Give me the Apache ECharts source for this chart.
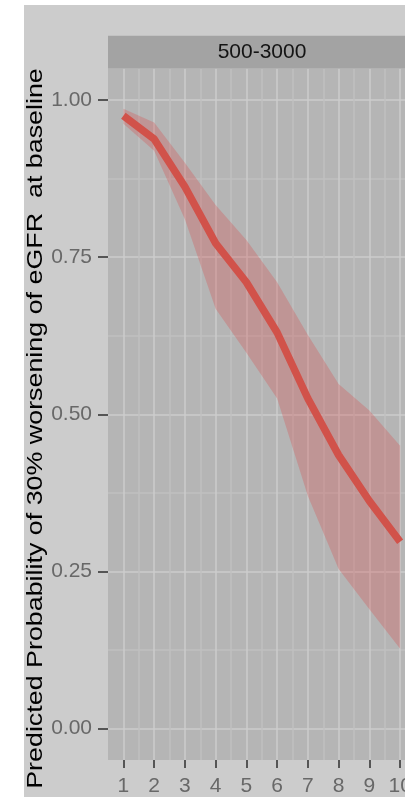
<!DOCTYPE html>
<html>
<head>
<meta charset="utf-8">
<script src="https://cdn.jsdelivr.net/npm/echarts@6/dist/echarts.min.js"></script>
<style>
  html, body { margin: 0; padding: 0; background: #ffffff; overflow: hidden; }
  #chart { position: absolute; left: 24px; top: 5px; width: 400px; height: 792px; }
</style>
</head>
<body>
<div id="chart"></div>
<script>
// Predicted probability of 30% eGFR worsening, with its confidence band
const visits = [1, 2, 3, 4, 5, 6, 7, 8, 9, 10];
const predicted = [0.975, 0.938, 0.862, 0.772, 0.710, 0.630, 0.525, 0.435, 0.362, 0.297];
const upper = [0.986, 0.964, 0.900, 0.833, 0.777, 0.710, 0.626, 0.548, 0.506, 0.450];
const lower = [0.962, 0.919, 0.810, 0.668, 0.598, 0.525, 0.370, 0.254, 0.190, 0.127];

const xTicks = [1, 2, 3, 4, 5, 6, 7, 8, 9, 10];
const xGrid = [1, 1.5, 2, 2.5, 3, 3.5, 4, 4.5, 5, 5.5, 6, 6.5, 7, 7.5, 8, 8.5, 9, 9.5, 10];
const yTicks = [0, 0.25, 0.5, 0.75, 1];
const yGrid = [0, 0.125, 0.25, 0.375, 0.5, 0.625, 0.75, 0.875, 1];

const stripLabel = '500-3000';
const yTitle = 'Predicted Probability of 30% worsening of eGFR  at baseline';

const FONT = '"Liberation Sans", Arial, sans-serif';
const PANEL = { left: 84, top: 63.5, width: 307.5, height: 692 };

const chart = echarts.init(document.getElementById('chart'), null, { renderer: 'canvas' });

// axis used only for the major/minor grid lines of the panel
const gridLineAxis = (values) => ({
  show: true,
  axisLine: { show: false, onZero: false },
  axisTick: { show: false, customValues: values },
  axisLabel: { show: false },
  splitLine: { show: true, lineStyle: { color: ['#cdcdcd', '#c1c1c1'], width: 1.5 } }
});

// confidence band as a single polygon: upper edge forward, lower edge back
const bandItem = (params, api) => {
  if (params.dataIndex !== 0) return null;
  const n = params.dataInsideLength;
  const pts = [];
  for (let i = 0; i < n; i++) pts.push(api.coord([api.value(0, i), api.value(2, i)]));
  for (let i = n - 1; i >= 0; i--) pts.push(api.coord([api.value(0, i), api.value(1, i)]));
  return {
    type: 'polygon',
    shape: { points: pts },
    style: { fill: 'rgba(215, 75, 75, 0.3)' }
  };
};

chart.setOption({
  animation: false,
  backgroundColor: '#cccccc',
  grid: {
    left: PANEL.left, top: PANEL.top, width: PANEL.width, height: PANEL.height,
    show: true, backgroundColor: '#b5b5b5', borderWidth: 0
  },
  xAxis: [
    Object.assign({ type: 'value', min: 0.5, max: 10.5 }, gridLineAxis(xGrid)),
    {
      type: 'value', min: 0.5, max: 10.5, position: 'bottom', z: 20,
      axisLine: { show: false, onZero: false },
      axisTick: { show: true, customValues: xTicks, length: 8, lineStyle: { color: '#555555', width: 2 } },
      axisLabel: {
        show: true, customValues: xTicks, margin: 16, color: '#686868', fontSize: 21, fontFamily: FONT,
        alignMinLabel: 'center', alignMaxLabel: 'center', hideOverlap: false
      },
      splitLine: { show: false }
    }
  ],
  yAxis: [
    Object.assign({ type: 'value', min: -0.05, max: 1.05 }, gridLineAxis(yGrid)),
    {
      type: 'value', min: -0.05, max: 1.05, position: 'left', z: 20,
      axisLine: { show: false, onZero: false },
      axisTick: { show: true, customValues: yTicks, length: 10, lineStyle: { color: '#555555', width: 2 } },
      axisLabel: {
        show: true, customValues: yTicks, margin: 16, color: '#686868', fontSize: 21, fontFamily: FONT,
        formatter: (v) => v.toFixed(2)
      },
      splitLine: { show: false }
    }
  ],
  series: [
    {
      type: 'custom', silent: true,
      renderItem: bandItem,
      encode: { x: 0, y: [1, 2] },
      data: visits.map((v, i) => [v, lower[i], upper[i]])
    },
    {
      type: 'line', symbol: 'none', silent: true, z: 3,
      lineStyle: { color: '#d1524a', width: 7.5, cap: 'butt', join: 'round' },
      data: visits.map((v, i) => [v, predicted[i]])
    }
  ],
  graphic: [
    {
      type: 'rect', silent: true, z: 10,
      shape: { x: PANEL.left, y: 30.7, width: 340, height: 32.8 },
      style: { fill: '#a3a3a3' }
    },
    {
      type: 'text', silent: true, z: 11,
      x: 238, y: 47,
      style: {
        text: stripLabel, fill: '#141414', font: '21px ' + FONT,
        align: 'center', verticalAlign: 'middle'
      }
    },
    {
      type: 'text', silent: true, z: 11,
      x: 11.5, y: 423.5, rotation: Math.PI / 2, scaleX: 1.22, scaleY: 1,
      style: {
        text: yTitle, fill: '#000000', font: '22px ' + FONT,
        align: 'center', verticalAlign: 'middle'
      }
    }
  ]
});
</script>
</body>
</html>
